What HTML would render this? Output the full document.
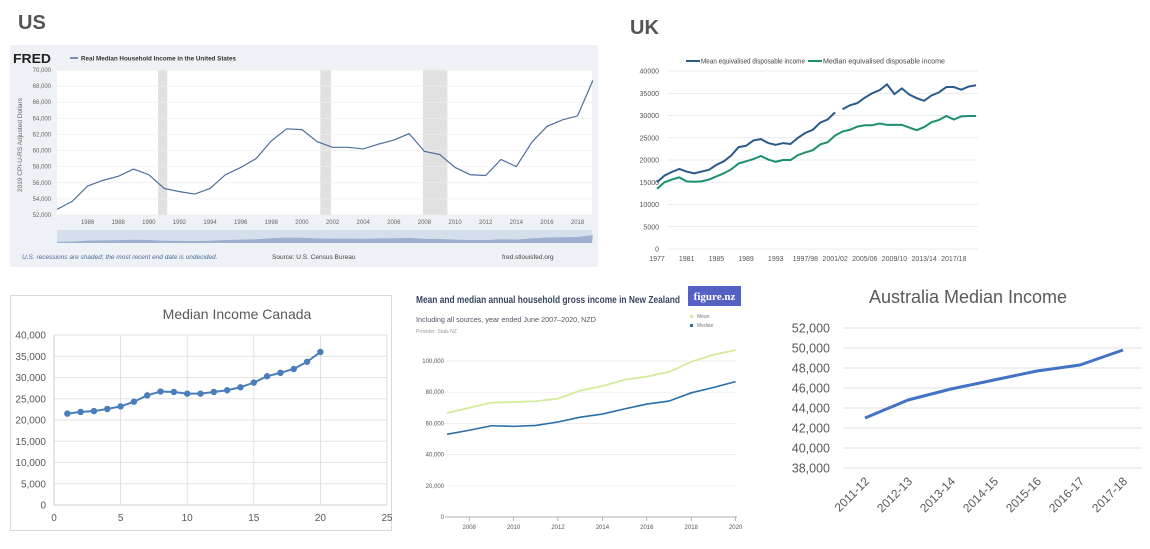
<!DOCTYPE html>
<html><head><meta charset="utf-8">
<style>
html,body{margin:0;padding:0;background:#fff;}
svg{display:block;font-family:"Liberation Sans",sans-serif;}
</style></head>
<body>
<svg id="s" width="1150" height="549" viewBox="0 0 1150 549">
  <!-- US -->
  <text x="18" y="29" font-size="20" font-weight="bold" fill="#555">US</text>
  <rect x="10" y="45" width="588" height="222" fill="#eef1f5"/>
  <rect x="57" y="70" width="535" height="145" fill="#fff"/>
  <text x="13" y="63" font-size="13" font-weight="bold" fill="#222" textLength="38" lengthAdjust="spacingAndGlyphs">FRED</text>
  <line x1="70" y1="58" x2="78" y2="58" stroke="#4d6f9a" stroke-width="1.5"/>
  <text x="81" y="60.5" font-size="6.5" font-weight="bold" fill="#333" textLength="155" lengthAdjust="spacingAndGlyphs">Real Median Household Income in the United States</text>
  <text transform="translate(22,145) rotate(-90)" text-anchor="middle" font-size="6.5" fill="#666">2019 CPI-U-RS Adjusted Dollars</text>
  <rect x="57" y="230" width="535" height="13" fill="#d5deeb"/>
  <text x="22" y="259" font-size="6.5" font-style="italic" fill="#4a6a9a">U.S. recessions are shaded; the most recent end date is undecided.</text>
  <text x="272" y="259" font-size="6.5" fill="#444">Source: U.S. Census Bureau</text>
  <text x="502" y="259" font-size="6.5" fill="#444">fred.stlouisfed.org</text>
  <g id="us"></g>

  <!-- UK -->
  <text x="630" y="34" font-size="20" font-weight="bold" fill="#555">UK</text>
  <line x1="686" y1="61" x2="700" y2="61" stroke="#2a5a8a" stroke-width="2"/>
  <text x="701" y="63.5" font-size="7" fill="#444" textLength="104" lengthAdjust="spacingAndGlyphs">Mean equivalised disposable income</text>
  <line x1="808" y1="61" x2="822" y2="61" stroke="#1a9070" stroke-width="2"/>
  <text x="823" y="63.5" font-size="7" fill="#444" textLength="122" lengthAdjust="spacingAndGlyphs">Median equivalised disposable income</text>
  <g id="uk"></g>

  <!-- Canada -->
  <rect x="10.5" y="295.5" width="381" height="235" fill="#fff" stroke="#d9d9d9"/>
  <text x="237" y="319" font-size="14" fill="#595959" text-anchor="middle">Median Income Canada</text>
  <g id="ca"></g>

  <!-- NZ -->
  <text x="416" y="303" font-size="10" font-weight="bold" fill="#3a4660" textLength="264" lengthAdjust="spacingAndGlyphs">Mean and median annual household gross income in New Zealand</text>
  <text x="416" y="322" font-size="7.5" fill="#556" textLength="180" lengthAdjust="spacingAndGlyphs">Including all sources, year ended June 2007–2020, NZD</text>
  <text x="416" y="333" font-size="5" fill="#999">Provider: Stats NZ</text>
  <rect x="688" y="286" width="53" height="20" fill="#5560c4"/>
  <text x="714.5" y="300" font-size="11" font-weight="bold" font-family="Liberation Serif,serif" fill="#fff" text-anchor="middle">figure.nz</text>
  <rect x="690" y="315" width="3" height="3" fill="#d4eb9a"/>
  <text x="697" y="318" font-size="5" fill="#777">Mean</text>
  <rect x="690" y="324" width="3" height="3" fill="#2a70a8"/>
  <text x="697" y="327" font-size="5" fill="#777">Median</text>
  <g id="nz"></g>

  <!-- Australia -->
  <text x="968" y="303" font-size="18" fill="#595959" text-anchor="middle">Australia Median Income</text>
  <g id="au"></g>
</svg>
<script>
const usYears=[1984,1985,1986,1987,1988,1989,1990,1991,1992,1993,1994,1995,1996,1997,1998,1999,2000,2001,2002,2003,2004,2005,2006,2007,2008,2009,2010,2011,2012,2013,2014,2015,2016,2017,2018,2019];
const usValues=[52700,53700,55600,56300,56800,57700,57000,55300,54900,54600,55300,57000,57900,59000,61200,62700,62600,61100,60400,60400,60200,60800,61300,62100,59900,59500,57900,57000,56900,58900,58000,61000,63000,63800,64300,68700];
const usRecessions=[[1990.6,1991.2],[2001.2,2001.9],[2007.9,2009.5]];
const usYTicks=[52000,54000,56000,58000,60000,62000,64000,66000,68000,70000];
const usXTicks=[1986,1988,1990,1992,1994,1996,1998,2000,2002,2004,2006,2008,2010,2012,2014,2016,2018];

const ukLabels=["1977","1981","1985","1989","1993","1997/98","2001/02","2005/06","2009/10","2013/14","2017/18"];
const ukMeanA=[15000,16500,17300,18000,17400,17000,17400,17800,18900,19700,21000,22900,23200,24400,24700,23800,23400,23800,23600,25000,26100,26800,28400,29100,30700];
const ukMeanB=[31400,32300,32800,34000,35000,35700,37000,34800,36100,34700,33900,33300,34500,35200,36400,36400,35800,36500,36800];
const ukMedian=[13500,15000,15600,16100,15200,15100,15200,15600,16300,17000,17900,19200,19700,20200,20900,20100,19600,20000,20000,21100,21700,22200,23500,24000,25500,26400,26800,27500,27800,27800,28200,27900,27900,27900,27300,26700,27400,28500,29000,29900,29100,29800,29900,29900];
const ukYTicks=[0,5000,10000,15000,20000,25000,30000,35000,40000];

const caValues=[21500,21900,22100,22600,23200,24300,25800,26700,26600,26200,26200,26600,27000,27700,28800,30300,31100,32000,33700,36000];
const caYTicks=[0,5000,10000,15000,20000,25000,30000,35000,40000];
const caXTicks=[0,5,10,15,20,25];

const nzYears=[2007,2008,2009,2010,2011,2012,2013,2014,2015,2016,2017,2018,2019,2020];
const nzMean=[66700,70000,73300,73700,74200,75900,81000,84000,88000,90000,93000,99500,104000,107000];
const nzMedian=[53000,55600,58500,58100,58700,60900,64000,66000,69300,72400,74300,79600,83000,86800];
const nzYTicks=[0,20000,40000,60000,80000,100000];
const nzXTicks=[2008,2010,2012,2014,2016,2018,2020];

const auCats=["2011-12","2012-13","2013-14","2014-15","2015-16","2016-17","2017-18"];
const auValues=[43000,44800,45900,46800,47700,48300,49800];
const auYTicks=[38000,40000,42000,44000,46000,48000,50000,52000];

const NS="http://www.w3.org/2000/svg";
function mk(tag,attrs,parent){const e=document.createElementNS(NS,tag);for(const k in attrs)e.setAttribute(k,attrs[k]);parent.appendChild(e);return e;}
function fmt(v){return v.toLocaleString('en-US');}
function pts(xs,ys,fx,fy){return xs.map((x,i)=>fx(x)+","+fy(ys[i])).join(" ");}
let el;

// US
const gUS=document.getElementById('us');
const usX=y=>57+(y-1984)*15.31, usY=v=>215-(v-52000)*(145/18000);
usRecessions.forEach(r=>{
  el=mk('rect',{x:usX(r[0]),y:70,width:usX(r[1])-usX(r[0]),height:145,fill:'#e1e1e1'},gUS);
  
  
});
usYTicks.forEach(t=>{
  el=mk('line',{x1:57,x2:592,y1:usY(t),y2:usY(t),stroke:'#eee','stroke-width':0.7},gUS);
  
  
  el=mk('text',{x:51,y:usY(t)+2,'font-size':6,fill:'#666','text-anchor':'end'},gUS);el.textContent=fmt(t);
  
  
});
usXTicks.forEach(t=>{
  el=mk('text',{x:usX(t),y:224,'font-size':6,fill:'#666','text-anchor':'middle'},gUS);el.textContent=t;
  
  
});
el=mk('polygon',{points:"57,243 "+pts(usYears,usValues,usX,v=>243-(v-50000)/19000*8)+" 592,243",fill:'#9db0cf'},gUS);


el=mk('polyline',{points:pts(usYears,usValues,usX,usY),fill:'none',stroke:'#4d6f9a','stroke-width':1.2},gUS);



// UK
const gUK=document.getElementById('uk');
const ukX=i=>657+i*7.42, ukY=v=>249-v*(178/40000);
ukYTicks.forEach(t=>{
  el=mk('line',{x1:668,x2:978,y1:ukY(t),y2:ukY(t),stroke:'#e4e4e4','stroke-width':0.7},gUS);
  
  
  el=mk('text',{x:659,y:ukY(t)+2.5,'font-size':7,fill:'#555','text-anchor':'end'},gUK);el.textContent=t;
  
  
});
ukLabels.forEach((l,i)=>{
  el=mk('text',{x:ukX(i*4),y:261,'font-size':7,fill:'#555','text-anchor':'middle'},gUK);el.textContent=l;
  
  
});
const idxA=ukMeanA.map((_,i)=>i), idxB=ukMeanB.map((_,i)=>i+ukMeanA.length), idxM=ukMedian.map((_,i)=>i);
el=mk('polyline',{points:pts(idxA,ukMeanA,ukX,ukY),fill:'none',stroke:'#2a5a8a','stroke-width':2},gUK);


el=mk('polyline',{points:pts(idxB,ukMeanB,ukX,ukY),fill:'none',stroke:'#2a5a8a','stroke-width':2},gUK);


el=mk('polyline',{points:pts(idxM,ukMedian,ukX,ukY),fill:'none',stroke:'#1a9070','stroke-width':2},gUK);



// Canada
const gCA=document.getElementById('ca');
const caX=v=>54+v*(333/25), caY=v=>505-v*(170/40000);
caYTicks.forEach(t=>{
  el=mk('line',{x1:54,x2:387,y1:caY(t),y2:caY(t),stroke:t===0?'#bfbfbf':'#d9d9d9','stroke-width':0.8},gCA);
  
  
  el=mk('text',{x:46,y:caY(t)+3.5,'font-size':10,fill:'#595959','text-anchor':'end'},gCA);el.textContent=fmt(t);
  
  
});
caXTicks.forEach(t=>{
  el=mk('line',{x1:caX(t),x2:caX(t),y1:caY(40000),y2:caY(0),stroke:t===0?'#bfbfbf':'#d9d9d9','stroke-width':0.8},gCA);
  
  
  el=mk('text',{x:caX(t),y:521,'font-size':10,fill:'#595959','text-anchor':'middle'},gCA);el.textContent=t;
  
  
});
const caIdx=caValues.map((_,i)=>i+1);
el=mk('polyline',{points:pts(caIdx,caValues,caX,caY),fill:'none',stroke:'#4a7ebb','stroke-width':2},gCA);


caValues.forEach((v,i)=>{
  el=mk('circle',{cx:caX(i+1),cy:caY(v),r:3.2,fill:'#4a7ebb'},gCA);
  
  
});

// NZ
const gNZ=document.getElementById('nz');
const nzX=y=>447+(y-2007)*22.2, nzY=v=>517-v*(156/100000);
nzYTicks.forEach(t=>{
  el=mk('line',{x1:445,x2:737,y1:nzY(t),y2:nzY(t),stroke:t===0?'#999':'#e8e8e8','stroke-width':0.7},gNZ);
  
  
  el=mk('text',{x:444,y:nzY(t)+2,'font-size':6,fill:'#555','text-anchor':'end'},gNZ);el.textContent=fmt(t);
  
  
});
nzXTicks.forEach(t=>{
  el=mk('line',{x1:nzX(t),x2:nzX(t),y1:517,y2:521,stroke:'#999','stroke-width':0.7},gNZ);
  
  
  el=mk('text',{x:nzX(t),y:529,'font-size':6,fill:'#555','text-anchor':'middle'},gNZ);el.textContent=t;
  
  
});
el=mk('polyline',{points:pts(nzYears,nzMean,nzX,nzY),fill:'none',stroke:'#d4eb9a','stroke-width':1.8},gNZ);


el=mk('polyline',{points:pts(nzYears,nzMedian,nzX,nzY),fill:'none',stroke:'#2a70a8','stroke-width':1.6},gNZ);



// Australia
const gAU=document.getElementById('au');
const auX=i=>865+i*43, auY=v=>468-(v-38000)*(140/14000);
auYTicks.forEach(t=>{
  el=mk('line',{x1:843,x2:1142,y1:auY(t),y2:auY(t),stroke:'#d9d9d9','stroke-width':0.8},gAU);
  
  
  el=mk('text',{x:830,y:auY(t)+4.5,'font-size':12.5,fill:'#595959','text-anchor':'end'},gAU);el.textContent=fmt(t);
  
  
});
auCats.forEach((c,i)=>{
  el=mk('text',{transform:'translate('+(auX(i)+5)+',482) rotate(-45)','font-size':12,fill:'#595959','text-anchor':'end'},gAU);el.textContent=c;
  
  
});
el=mk('polyline',{points:pts(auCats.map((_,i)=>i),auValues,auX,auY),fill:'none',stroke:'#4472c4','stroke-width':3,'stroke-linejoin':'round'},gAU);


</script>
</body></html>
